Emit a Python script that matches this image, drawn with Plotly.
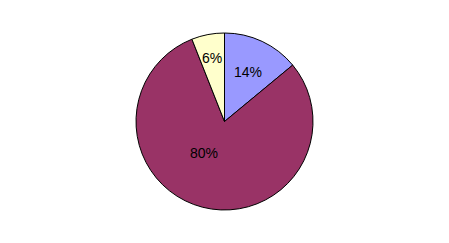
import math
import plotly.graph_objects as go

labels = ["A", "B", "C"]
values = [14, 80, 6]
colors = ["#9999FF", "#993366", "#FFFFCC"]

W, H = 449, 243
cx, cy, r = 224.5, 121.5, 88.5

fig = go.Figure(go.Pie(
    labels=labels,
    values=values,
    sort=False,
    direction="clockwise",
    rotation=0,
    marker=dict(colors=colors, line=dict(color="black", width=1)),
    textinfo="none",
    domain=dict(x=[(cx - r) / W, (cx + r) / W], y=[(H - cy - r) / H, (H - cy + r) / H]),
    showlegend=False,
    hoverinfo="label+percent",
))

# label placement (Excel-style): radial fraction and angular nudge per slice
place = [(0.62, 0.0), (0.43, 19.0), (0.73, 0.0)]
total = sum(values)
start = 0.0
annotations = []
for v, (frac, nudge) in zip(values, place):
    mid = start + v / total * 180.0 + nudge
    start += v / total * 360.0
    a = math.radians(mid)
    px = cx + frac * r * math.sin(a)
    py = cy - frac * r * math.cos(a)
    annotations.append(dict(
        x=px / W, y=(H - py) / H, xref="paper", yref="paper",
        text=f"{round(v / total * 100)}%", showarrow=False,
        xanchor="center", yanchor="middle",
        font=dict(family="Liberation Sans, Arial", size=14, color="black"),
    ))

fig.update_layout(
    width=W, height=H,
    margin=dict(l=0, r=0, t=0, b=0),
    paper_bgcolor="white", plot_bgcolor="white",
    annotations=annotations,
)
fig.write_html("out.html")
